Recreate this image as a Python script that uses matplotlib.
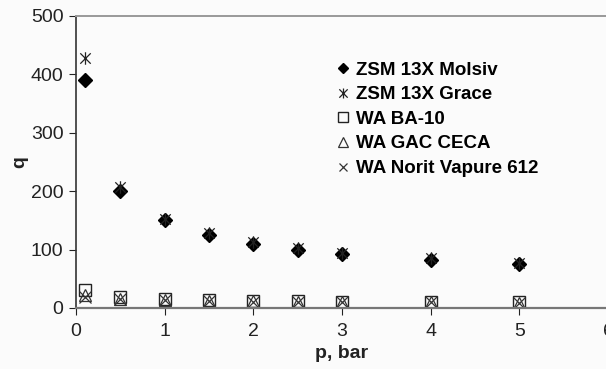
import matplotlib.pyplot as plt
from matplotlib.path import Path

p = [0.1, 0.5, 1, 1.5, 2, 2.5, 3, 4, 5]
molsiv = [390, 200, 150, 125, 110, 100, 93, 83, 75]
grace = [428, 208, 153, 128, 113, 103, 95, 85, 77]
ba10 = [30, 18, 15, 13, 12, 12, 11, 11, 10]
ceca = [22, 16, 14, 12, 12, 11, 11, 10, 9]
norit = [18, 15, 13, 12, 11, 11, 10, 10, 9]

labels = ["ZSM 13X Molsiv", "ZSM 13X Grace", "WA BA-10", "WA GAC CECA",
          "WA Norit Vapure 612"]

plt.rcParams['font.family'] = ['Liberation Sans', 'DejaVu Sans']

# Excel-style star marker: an x with a vertical bar
star = Path([(-1, -1), (1, 1), (-1, 1), (1, -1), (0, -1.2), (0, 1.2)],
            [Path.MOVETO, Path.LINETO] * 3)

fig = plt.figure(figsize=(6.06, 3.69), dpi=100, facecolor='#fbfbfb')
ax = fig.add_axes([76 / 606, 1 - 308 / 369, 532 / 606, 292 / 369])
ax.set_facecolor('#fbfbfb')

ax.plot(p, molsiv, 'D', color='black', ms=7, ls='none', label=labels[0])
ax.plot(p, grace, marker=star, color='#222222', mfc='none', ms=9, mew=0.9,
        ls='none', label=labels[1])
ax.plot(p, ba10, 's', mfc='none', mec='#222222', ms=9, mew=1.0, ls='none',
        label=labels[2])
ax.plot(p, ceca, '^', mfc='none', mec='#333333', ms=9, mew=0.9, ls='none',
        label=labels[3])
ax.plot(p, norit, 'x', color='#333333', ms=8, mew=0.9, ls='none',
        label=labels[4])

ax.set_xlim(0, 6)
ax.set_ylim(0, 500)
ax.set_xticks(range(0, 7))
ax.set_yticks(range(0, 501, 100))

ax.spines['right'].set_visible(False)
ax.spines['left'].set_color('#333333')
ax.spines['bottom'].set_color('#777777')
ax.spines['top'].set_color('#999999')
ax.spines['bottom'].set_linewidth(1.6)
ax.spines['top'].set_linewidth(1.4)
ax.spines['left'].set_linewidth(1.2)
ax.tick_params(axis='both', direction='out', length=5, labelsize=14,
               colors='#222222')
ax.tick_params(axis='x', pad=6)
ax.tick_params(axis='y', pad=4)

ax.set_xlabel('p, bar', fontsize=14, fontweight='bold', color='#222222')
ax.set_ylabel('q', fontsize=14, fontweight='bold', color='#222222')
ax.xaxis.set_label_coords(0.5, -0.125)
ax.yaxis.set_label_coords(-0.09, 0.5)

ax.legend(loc='upper left', bbox_to_anchor=(0.467, 0.87), frameon=False,
          prop={'weight': 'bold', 'size': 13.5}, handletextpad=0.1,
          labelspacing=0.4, handlelength=1.2, markerscale=0.8,
          borderaxespad=0)

fig.savefig('out.png', dpi=100, facecolor=fig.get_facecolor())
